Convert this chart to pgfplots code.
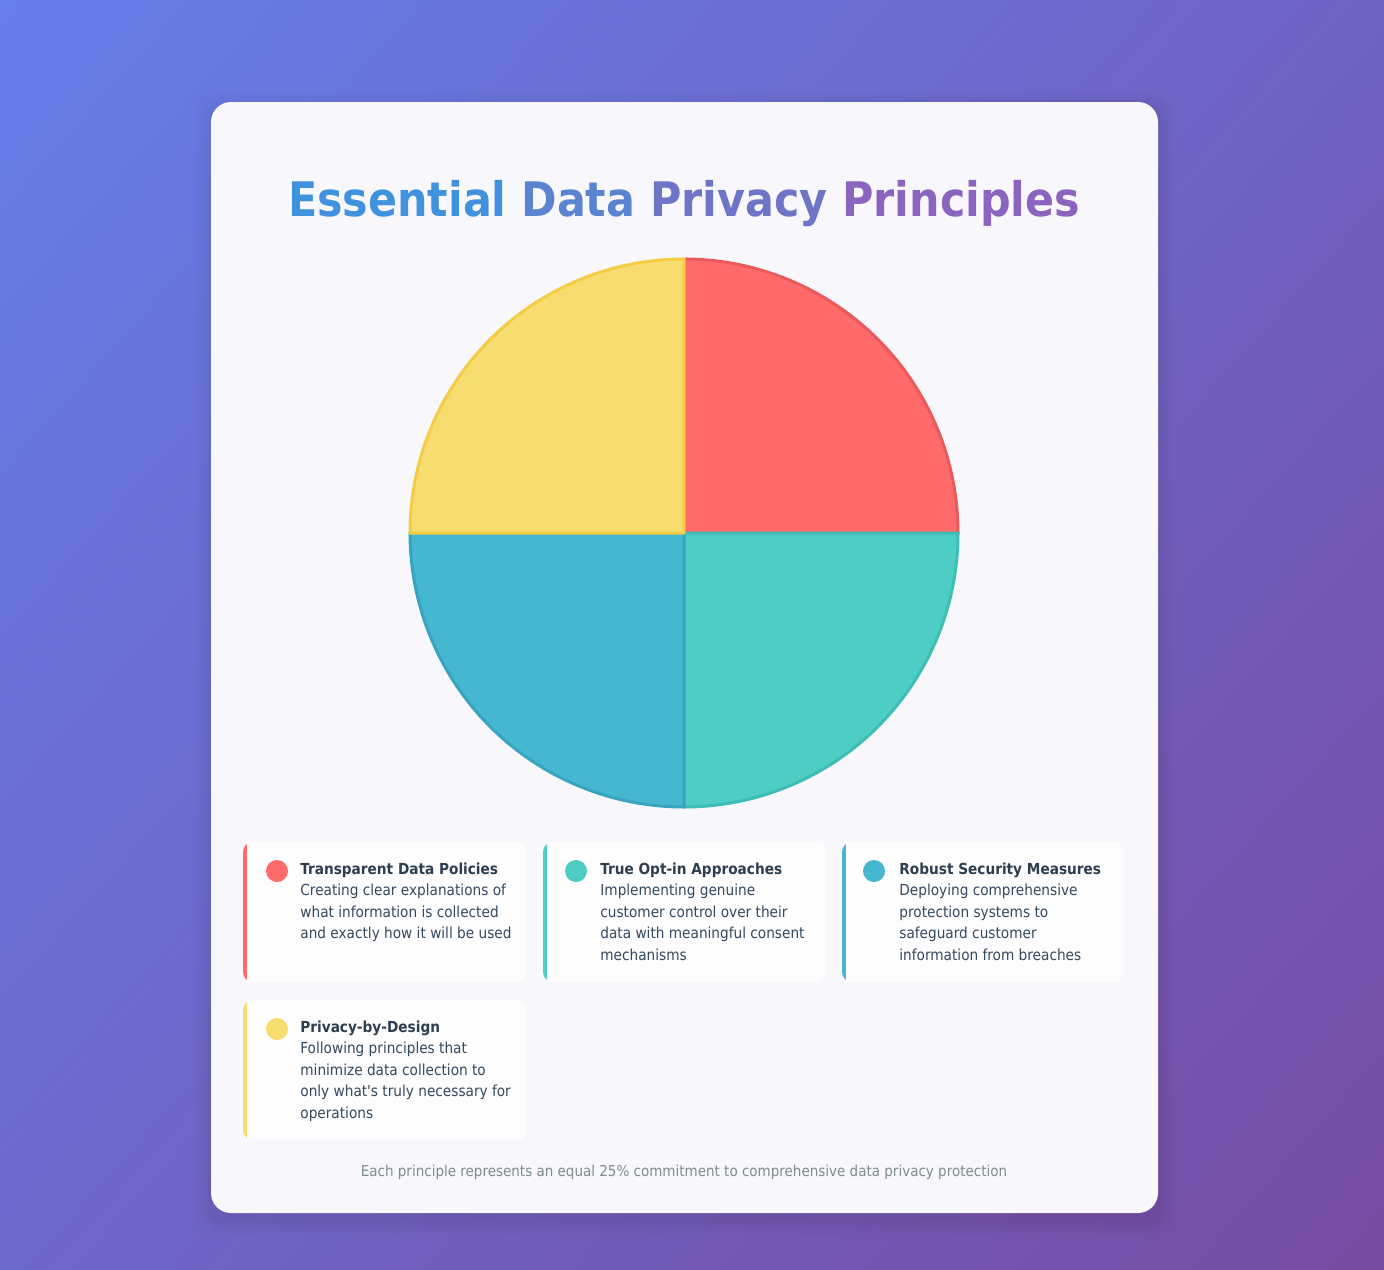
\documentclass[border=0pt]{standalone}
\usepackage{fontspec}
\setmainfont{DejaVu Sans Condensed}[Ligatures=TeXOff]
\usepackage{pgfplots}
\pgfplotsset{compat=1.18}
\usepackage{pgfplotstable}
\usetikzlibrary{shadings}

\definecolor{bgA}{HTML}{667EEA}
\definecolor{bgB}{HTML}{764BA2}
\definecolor{card}{HTML}{F7F7FC}
\definecolor{tile}{HTML}{FDFDFE}
\definecolor{ink}{HTML}{2C3E50}
\definecolor{inkl}{HTML}{34495E}
\definecolor{foot}{HTML}{7F8C8D}
\definecolor{fill0}{HTML}{FF6B6B}
\definecolor{fill1}{HTML}{4ECDC4}
\definecolor{fill2}{HTML}{45B7D1}
\definecolor{fill3}{HTML}{F7DC6F}
\definecolor{edge0}{HTML}{EB5A5A}
\definecolor{edge1}{HTML}{3DBDB4}
\definecolor{edge2}{HTML}{37A5C0}
\definecolor{edge3}{HTML}{F4CD45}
\definecolor{t1}{HTML}{3F92DB}
\definecolor{t2}{HTML}{5A84D0}
\definecolor{t3}{HTML}{6E74C6}
\definecolor{t4}{HTML}{8A64BF}

% share of each principle, in per cent
\pgfplotstableread{
name value
Transparent 25
OptIn 25
Security 25
Design 25
}\slicedata

% cumulative angles, clockwise from 12 o'clock
\def\cum{0}%
\pgfplotsforeachungrouped \i in {0,...,3}{%
  \pgfplotstablegetelem{\i}{value}\of\slicedata
  \pgfmathsetmacro\angS{90-3.6*\cum}%
  \pgfmathsetmacro\cum{\cum+\pgfplotsretval}%
  \pgfmathsetmacro\angE{90-3.6*\cum}%
  \expandafter\xdef\csname sa\i\endcsname{\angS}%
  \expandafter\xdef\csname sb\i\endcsname{\angE}%
}%

\newcommand{\tilebox}[5]{% x0,y0,x1,y1,color (y given downwards)
  \begin{scope}
    \clip[rounded corners=5pt] (#1,-#2) rectangle (#3,-#4);
    \fill[tile] (#1,-#2) rectangle (#3,-#4);
    \fill[#5] (#1,-#2) rectangle ({#1+4},-#4);
  \end{scope}}

\begin{document}
\begin{tikzpicture}[x=0.5pt,y=0.5pt]
\useasboundingbox (0,0) rectangle (1384,-1269);
\shade[upper left=bgA, lower right=bgB, upper right=bgA!45!bgB, lower left=bgA!55!bgB]
  (0,0) rectangle (1384,-1269);
% card shadow
\foreach \k in {1,...,8}
  \fill[black, opacity=0.007, rounded corners=10pt] ({211-\k*2},{-102+\k*2-6}) rectangle ({1158+\k*2},{-1213-\k*2-6});
\fill[card, rounded corners=10pt] (211,-102) rectangle (1158,-1213);

\node[anchor=base, inner sep=0pt, font=\fontsize{23.8pt}{30pt}\selectfont\bfseries]
  at (684,-216) {\textcolor{t1}{Essential} \textcolor{t2}{Data} \textcolor{t3}{Privacy} \textcolor{t4}{Principles}};

\coordinate (piecentre) at (684,-533);
\begin{axis}[at={(piecentre)}, anchor=center, scale only axis,
  width=274pt, height=274pt, xmin=-1, xmax=1, ymin=-1, ymax=1,
  hide axis, clip=false]
\pgfplotsinvokeforeach{0,...,3}{
  \edef\doslice{\noexpand\filldraw[fill=fill#1, draw=edge#1, line width=1.5pt, line join=round]
    (axis cs:0,0) -- (axis cs:{cos(\csname sa#1\endcsname)},{sin(\csname sa#1\endcsname)})
    arc[start angle=\csname sa#1\endcsname, end angle=\csname sb#1\endcsname, radius=137pt] -- cycle;}
  \doslice
}
\end{axis}

% legend tiles
\tilebox{243}{842}{527}{982}{fill0}
\tilebox{543}{842}{826}{982}{fill1}
\tilebox{842}{842}{1124}{982}{fill2}
\tilebox{243}{1000}{527}{1140}{fill3}

\fill[fill0] (277,-871) circle[radius=5.5pt];
\fill[fill1] (576,-871) circle[radius=5.5pt];
\fill[fill2] (874,-871) circle[radius=5.5pt];
\fill[fill3] (277,-1029) circle[radius=5.5pt];

\tikzset{hd/.style={anchor=base west, inner sep=0pt, text=ink, font=\fontsize{7.6pt}{9pt}\selectfont\bfseries},
         ds/.style={anchor=base west, inner sep=0pt, text=inkl, font=\fontsize{7.6pt}{9pt}\selectfont}}

\node[hd] at (300,-874) {Transparent Data Policies};
\node[ds] at (300,-895.5) {Creating clear explanations of};
\node[ds] at (300,-917) {what information is collected};
\node[ds] at (300,-938.5) {and exactly how it will be used};

\node[hd] at (600,-874) {True Opt-in Approaches};
\node[ds] at (600,-895.5) {Implementing genuine};
\node[ds] at (600,-917) {customer control over their};
\node[ds] at (600,-938.5) {data with meaningful consent};
\node[ds] at (600,-960) {mechanisms};

\node[hd] at (899,-874) {Robust Security Measures};
\node[ds] at (899,-895.5) {Deploying comprehensive};
\node[ds] at (899,-917) {protection systems to};
\node[ds] at (899,-938.5) {safeguard customer};
\node[ds] at (899,-960) {information from breaches};

\node[hd] at (300,-1032) {Privacy-by-Design};
\node[ds] at (300,-1053.5) {Following principles that};
\node[ds] at (300,-1075) {minimize data collection to};
\node[ds] at (300,-1096.5) {only what's truly necessary for};
\node[ds] at (300,-1118) {operations};

\node[anchor=base, inner sep=0pt, text=foot, font=\fontsize{7.5pt}{9pt}\selectfont]
  at (684,-1176) {Each principle represents an equal 25\% commitment to comprehensive data privacy protection};
\end{tikzpicture}
\end{document}
